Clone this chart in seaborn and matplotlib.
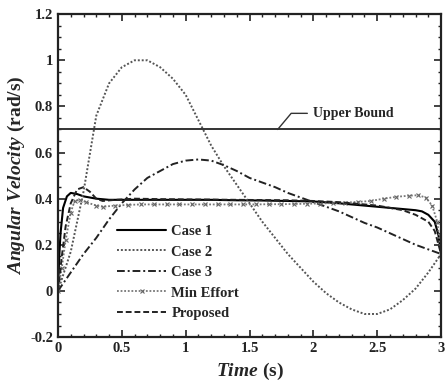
import numpy as np
import pandas as pd
import matplotlib
matplotlib.use("Agg")
import matplotlib.pyplot as plt
from matplotlib.ticker import MultipleLocator, FixedLocator, FixedFormatter
import seaborn as sns

# ---------------- data ----------------
case1_t = [0, 0.01, 0.02, 0.04, 0.07, 0.1, 0.15, 0.2, 0.3, 0.4, 0.6, 0.8, 1.0, 1.2, 1.4, 1.6,
           1.8, 2.0, 2.2, 2.4, 2.5, 2.6, 2.7, 2.8, 2.85, 2.9, 2.95, 2.98, 3.0]
case1_v = [0.0, 0.15, 0.25, 0.36, 0.41, 0.425, 0.42, 0.41, 0.40, 0.395, 0.395, 0.395, 0.395, 0.395, 0.393, 0.392,
           0.39, 0.388, 0.38, 0.37, 0.365, 0.36, 0.355, 0.35, 0.345, 0.33, 0.30, 0.24, 0.16]

case2_t = [0, 0.1, 0.2, 0.3, 0.4, 0.5, 0.6, 0.7, 0.8, 0.9, 1.0, 1.1, 1.2, 1.3, 1.4, 1.5,
           1.6, 1.7, 1.8, 1.9, 2.0, 2.1, 2.2, 2.3, 2.4, 2.5, 2.6, 2.7, 2.8, 2.9, 3.0]
case2_v = [0.0, 0.17, 0.43, 0.76, 0.90, 0.97, 1.0, 1.0, 0.97, 0.92, 0.85, 0.74, 0.63, 0.54, 0.46, 0.38,
           0.30, 0.23, 0.16, 0.10, 0.04, -0.01, -0.05, -0.08, -0.10, -0.10, -0.08, -0.04, 0.01, 0.08, 0.16]

case3_t = [0, 0.1, 0.2, 0.3, 0.4, 0.5, 0.6, 0.7, 0.8, 0.9, 1.0, 1.1, 1.2, 1.3, 1.4, 1.5,
           1.6, 1.7, 1.8, 1.9, 2.0, 2.1, 2.2, 2.3, 2.4, 2.5, 2.6, 2.7, 2.8, 2.9, 3.0]
case3_v = [0.0, 0.08, 0.16, 0.23, 0.31, 0.38, 0.44, 0.49, 0.52, 0.55, 0.565, 0.57, 0.565, 0.545, 0.52, 0.49,
           0.47, 0.45, 0.425, 0.405, 0.385, 0.365, 0.345, 0.32, 0.295, 0.275, 0.25, 0.225, 0.20, 0.18, 0.16]

mineff_t = [0, 0.03, 0.06, 0.1, 0.13, 0.17, 0.22, 0.3, 0.35, 0.45, 0.55, 0.65, 0.75, 0.85, 0.95,
            1.05, 1.15, 1.25, 1.35, 1.45, 1.55, 1.65, 1.75, 1.85, 1.95, 2.05, 2.15, 2.25, 2.35,
            2.45, 2.55, 2.65, 2.75, 2.82, 2.88, 2.93, 2.97, 3.0]
mineff_v = [0.0, 0.10, 0.22, 0.34, 0.39, 0.395, 0.385, 0.37, 0.365, 0.37, 0.373, 0.375, 0.375, 0.375, 0.375,
            0.375, 0.375, 0.375, 0.375, 0.375, 0.375, 0.376, 0.376, 0.377, 0.378, 0.379, 0.381, 0.383, 0.386,
            0.39, 0.40, 0.408, 0.413, 0.415, 0.405, 0.37, 0.30, 0.16]

prop_t = [0, 0.03, 0.06, 0.1, 0.15, 0.2, 0.25, 0.3, 0.35, 0.45, 0.6, 0.8, 1.0, 1.2, 1.4, 1.6,
          1.8, 2.0, 2.2, 2.5, 2.7, 2.8, 2.9, 2.95, 3.0]
prop_v = [0.0, 0.15, 0.28, 0.38, 0.44, 0.45, 0.43, 0.40, 0.39, 0.395, 0.40, 0.398, 0.397, 0.396, 0.395, 0.394,
          0.393, 0.39, 0.385, 0.37, 0.35, 0.33, 0.30, 0.26, 0.16]

upper_bound = 0.7

x_ticks = [0, 0.5, 1, 1.5, 2, 2.5, 3]
x_tick_labels = ["0", "0.5", "1", "1.5", "2", "2.5", "3"]
y_ticks = [-0.2, 0, 0.2, 0.4, 0.6, 0.8, 1.0, 1.2]
y_tick_labels = ["-0.2", "0", "0.2", "0.4", "0.6", "0.8", "1", "1.2"]

# ---------------- style ----------------
sns.set_theme(style="ticks")
plt.rcParams["font.family"] = ["Liberation Serif", "DejaVu Serif"]
plt.rcParams["font.weight"] = "bold"
plt.rcParams["axes.unicode_minus"] = False
plt.rcParams["mathtext.fontset"] = "custom"
plt.rcParams["mathtext.it"] = "Liberation Serif:bold:italic"
plt.rcParams["mathtext.rm"] = "Liberation Serif:bold"

fig = plt.figure(figsize=(4.46, 3.83), dpi=100)
ax = fig.add_axes([0.130, 0.120, 0.859, 0.843])

def frame(t, v):
    return pd.DataFrame({"t": t, "v": v})

sns.lineplot(data=frame(case1_t, case1_v), x="t", y="v", ax=ax, color="black",
             lw=1.5, label="Case 1", estimator=None)
sns.lineplot(data=frame(case2_t, case2_v), x="t", y="v", ax=ax, color="#555555",
             lw=1.4, linestyle=(0, (1, 1)), label="Case 2", estimator=None)
sns.lineplot(data=frame(case3_t, case3_v), x="t", y="v", ax=ax, color="#222222",
             lw=1.4, linestyle=(0, (4, 1.5, 1, 1.5)), label="Case 3", estimator=None)
sns.lineplot(data=frame(mineff_t, mineff_v), x="t", y="v", ax=ax, color="#777777",
             lw=1.3, linestyle=(0, (1, 1)), label="Min Effort", estimator=None)
me_line = ax.lines[-1]
me_line.set_marker("x")
me_line.set_markersize(3.5)
me_line.set_markeredgewidth(0.8)
me_line.set_markeredgecolor("#666666")
sns.lineplot(data=frame(prop_t, prop_v), x="t", y="v", ax=ax, color="#222222",
             lw=1.4, linestyle=(0, (3, 1.5)), label="Proposed", estimator=None)

ax.axhline(upper_bound, color="#333333", lw=1.4)
ax.annotate("Upper Bound", xy=(1.72, upper_bound), xytext=(2.0, 0.77),
            ha="left", va="center", fontsize=10, fontweight="bold",
            arrowprops=dict(arrowstyle="-", color="#333333", lw=1.0,
                            connectionstyle="angle,angleA=0,angleB=50,rad=0",
                            shrinkA=2, shrinkB=0))

ax.set_xlim(0, 3)
ax.set_ylim(-0.2, 1.2)
ax.xaxis.set_major_locator(FixedLocator(x_ticks))
ax.xaxis.set_major_formatter(FixedFormatter(x_tick_labels))
ax.yaxis.set_major_locator(FixedLocator(y_ticks))
ax.yaxis.set_major_formatter(FixedFormatter(y_tick_labels))
ax.xaxis.set_minor_locator(MultipleLocator(0.1))
ax.yaxis.set_minor_locator(MultipleLocator(0.05))
ax.tick_params(which="both", direction="in", top=True, right=True, colors="#222222",
               labelsize=10.5)
ax.tick_params(which="major", length=5, width=1.2)
ax.tick_params(which="minor", length=2.5, width=1.0)
for lab in ax.get_xticklabels() + ax.get_yticklabels():
    lab.set_fontweight("bold")
for s in ax.spines.values():
    s.set_linewidth(1.6)
    s.set_color("#222222")

ax.set_xlabel(r"$\mathit{Time}$ (s)", fontsize=14, fontweight="bold", labelpad=4)
ax.set_ylabel(r"$\mathit{Angular\ Velocity}$ (rad/s)", fontsize=14, fontweight="bold", labelpad=2)

handles, labels = ax.get_legend_handles_labels()
leg = ax.legend(handles, labels, loc="center left", bbox_to_anchor=(0.14, 0.2), borderaxespad=0,
                frameon=False, handlelength=3.3, handletextpad=0.4, numpoints=1,
                labelspacing=0.5, prop={"weight": "bold", "size": 10.5})

fig.savefig("out.png", dpi=100)
